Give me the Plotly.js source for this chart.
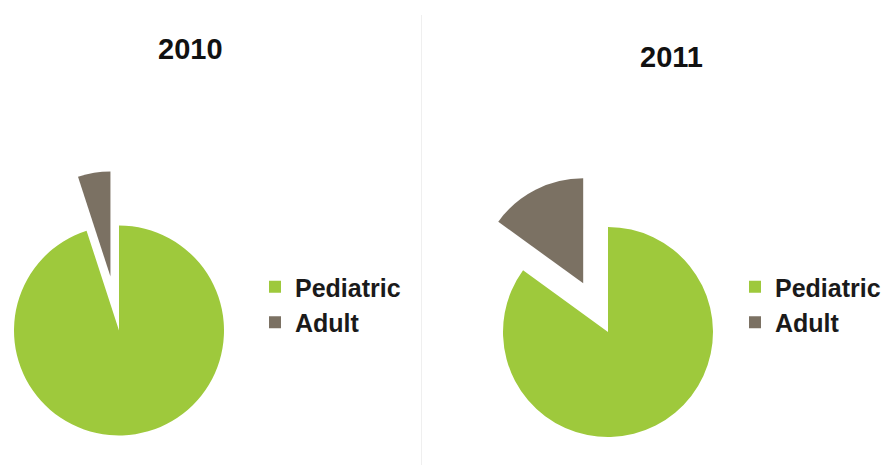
<!DOCTYPE html>
<html>
<head>
<meta charset="utf-8">
<script src="https://cdn.plot.ly/plotly-3.0.1.min.js"></script>
<style>
html,body{margin:0;padding:0;overflow:hidden;background:#fff;width:886px;height:465px;}
#chart{position:absolute;left:-60px;top:0;width:1100px;height:500px;}
</style>
</head>
<body>
<div id="chart"></div>
<script>
// ---- data ----
const categories = ["Pediatric", "Adult"];
const years = ["2010", "2011"];
const values2010 = [95, 5];
const values2011 = [85, 15];

// ---- styling / geometry ----
const colors = ["#9ec93c", "#7b7163"];
const OX = 60, W = 1100, H = 500;     // plot canvas extends past the 886x465 window
const R = 105, PULL = 0.52;
const half = R * (1 + PULL);

function dom(cx, cy) {                 // page px centre -> paper domain
  const px = cx + OX;
  return {
    x: [(px - half) / W, (px + half) / W],
    y: [(H - (cy + half)) / H, (H - (cy - half)) / H]
  };
}

function pieTrace(vals, d, legendId, group) {
  return {
    type: "pie",
    labels: categories,
    values: vals,
    sort: false,
    direction: "clockwise",
    rotation: 0,
    pull: [0, PULL],
    marker: {colors: colors, line: {width: 0}},
    textinfo: "none",
    hoverinfo: "none",
    domain: d,
    legend: legendId,
    legendgroup: group,
    showlegend: true
  };
}

const data = [
  pieTrace(values2010, dom(119, 330.5), "legend", "y" + years[0]),
  pieTrace(values2011, dom(608, 332), "legend2", "y" + years[1])
];

const legFont = {family: "Liberation Sans, Arial, sans-serif", size: 25, color: "#1a1a1a", weight: "bold"};

const layout = {
  width: W, height: H,
  margin: {l: 0, r: 0, t: 0, b: 0},
  paper_bgcolor: "#ffffff",
  plot_bgcolor: "#ffffff",
  legend: {x: (255 + OX) / W, xanchor: "left", y: (H - 264) / H, yanchor: "top",
           font: legFont, bgcolor: "rgba(0,0,0,0)"},
  legend2: {x: (735 + OX) / W, xanchor: "left", y: (H - 264) / H, yanchor: "top",
            font: legFont, bgcolor: "rgba(0,0,0,0)"},
  annotations: [
    {text: years[0], xref: "paper", yref: "paper", x: (190 + OX) / W, y: (H - 49) / H,
     xanchor: "center", yanchor: "middle", showarrow: false,
     font: {family: "Liberation Sans, Arial, sans-serif", size: 29, color: "#111111", weight: "bold"}},
    {text: years[1], xref: "paper", yref: "paper", x: (671 + OX) / W, y: (H - 57) / H,
     xanchor: "center", yanchor: "middle", showarrow: false,
     font: {family: "Liberation Sans, Arial, sans-serif", size: 29, color: "#111111", weight: "bold"}}
  ],
  shapes: [
    {type: "line", xref: "paper", yref: "paper",
     x0: (421.5 + OX) / W, x1: (421.5 + OX) / W, y0: (H - 465) / H, y1: (H - 15) / H,
     line: {color: "#efefef", width: 1}}
  ]
};

Plotly.newPlot("chart", data, layout, {displayModeBar: false, staticPlot: true});
</script>
</body>
</html>
